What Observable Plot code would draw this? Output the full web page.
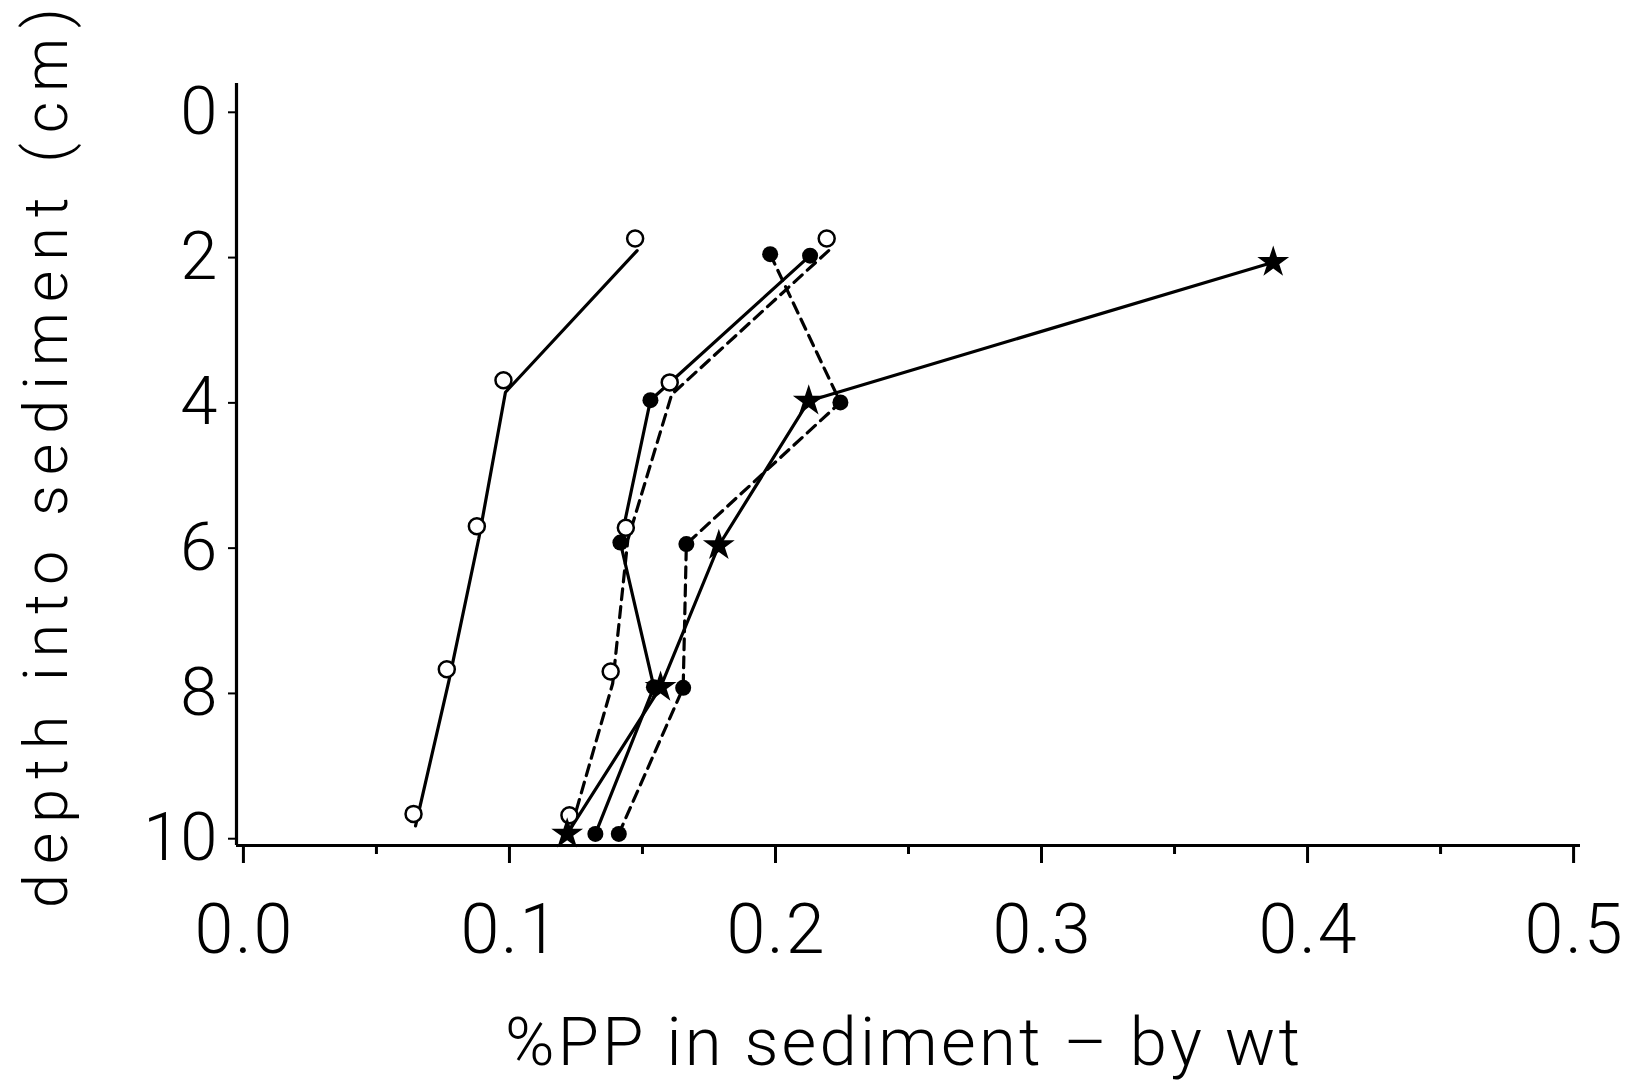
<!DOCTYPE html>
<html><head><meta charset="utf-8">
<script src="https://cdn.jsdelivr.net/npm/d3@7"></script>
<script src="https://cdn.jsdelivr.net/npm/@observablehq/plot@0.6"></script>
<style>
html,body{margin:0;padding:0;background:#fff;}
svg text{font-family:Roboto,"Liberation Sans",sans-serif;font-weight:300;fill:#000;}
</style></head><body><div id="chart"></div>
<script>
// %PP in sediment (by wt) and depth (cm), one pair of arrays per series
const openSolidPP = [0.148, 0.0985, 0.0885, 0.0772, 0.0647];
const openSolidDepth = [2.11, 4.06, 6.07, 8.04, 10.03];
const openDashedPP = [0.220, 0.161, 0.1445, 0.1388, 0.1233];
const openDashedDepth = [2.11, 4.09, 6.09, 8.07, 10.05];
const filledSolidPP = [0.213, 0.153, 0.1417, 0.1543, 0.1323];
const filledSolidDepth = [2.18, 4.17, 6.13, 8.12, 10.14];
const filledDashedPP = [0.198, 0.2244, 0.1665, 0.1653, 0.1411];
const filledDashedDepth = [2.16, 4.20, 6.15, 8.13, 10.14];
const starPP = [0.3871, 0.2125, 0.1787, 0.1568, 0.1217];
const starDepth = [2.27, 4.18, 6.17, 8.12, 10.14];

const xTicks = [0, 0.1, 0.2, 0.3, 0.4, 0.5];
const xMinorTicks = [0.05, 0.15, 0.25, 0.35, 0.45];
const yTicks = [0, 2, 4, 6, 8, 10];
const xDomain = [-0.0026, 0.5026];
const yDomain = [-0.19, 10.3];
const xLabel = "%PP in sediment \u2013 by wt";
const yLabel = "depth into sediment (cm)";

const pts = (xs, ys) => xs.map((x, i) => ({x, y: ys[i]}));
const openSolid = pts(openSolidPP, openSolidDepth);
const openDashed = pts(openDashedPP, openDashedDepth);
const filledSolid = pts(filledSolidPP, filledSolidDepth);
const filledDashed = pts(filledDashedPP, filledDashedDepth);
const stars = pts(starPP, starDepth);

const lw = 3.2, dash = "11,7";
const chart = Plot.plot({
  width: 1631, height: 1089,
  marginLeft: 236, marginRight: 51, marginTop: 83, marginBottom: 244,
  x: {domain: xDomain},
  y: {domain: yDomain, reverse: true},
  marks: [
    Plot.ruleX([xDomain[0]], {stroke: "black", strokeWidth: 3.2}),
    Plot.ruleY([yDomain[1]], {stroke: "black", strokeWidth: 3.2}),
    Plot.axisX(xTicks, {tickSize: 18, tickPadding: 40, fontSize: 70, tickFormat: d3.format(".1f"), label: null, strokeWidth: 3}),
    Plot.axisX(xMinorTicks, {tickSize: 9, text: null, label: null, strokeWidth: 3}),
    Plot.axisY(yTicks, {tickSize: 8, tickPadding: 11, fontSize: 67, dy: 15, tickFormat: d3.format("d"), label: null, strokeWidth: 2}),
    Plot.line(openSolid, {x: "x", y: "y", stroke: "black", strokeWidth: lw}),
    Plot.line(openDashed, {x: "x", y: "y", stroke: "black", strokeWidth: lw, strokeDasharray: dash}),
    Plot.line(filledSolid, {x: "x", y: "y", stroke: "black", strokeWidth: lw}),
    Plot.line(filledDashed, {x: "x", y: "y", stroke: "black", strokeWidth: lw, strokeDasharray: dash}),
    Plot.line(stars, {x: "x", y: "y", stroke: "black", strokeWidth: lw}),
    Plot.dot(openSolid, {x: "x", y: "y", r: 8, stroke: "black", fill: "white", strokeWidth: 2.5, dy: -12, dx: -2}),
    Plot.dot(openDashed, {x: "x", y: "y", r: 8, stroke: "black", fill: "white", strokeWidth: 2.5, dy: -12, dx: -2}),
    Plot.dot(filledSolid, {x: "x", y: "y", r: 8, fill: "black"}),
    Plot.dot(filledDashed, {x: "x", y: "y", r: 8, fill: "black"}),
    Plot.dot(stars, {x: "x", y: "y", r: 10, symbol: "star", fill: "black"})
  ]
});

const svg = d3.select(chart);
svg.selectAll('[aria-label="x-axis tick label"] text').attr("textLength", 98).attr("lengthAdjust", "spacing");
svg.append("text")
  .attr("x", 505).attr("y", 1065)
  .attr("text-anchor", "start")
  .attr("font-size", 67)
  .attr("textLength", 795).attr("lengthAdjust", "spacing")
  .text(xLabel);
svg.append("text")
  .attr("transform", "translate(67,908) rotate(-90)")
  .attr("text-anchor", "start")
  .attr("font-size", 61)
  .attr("textLength", 900).attr("lengthAdjust", "spacing")
  .text(yLabel);
document.getElementById("chart").appendChild(chart);
</script></body></html>
